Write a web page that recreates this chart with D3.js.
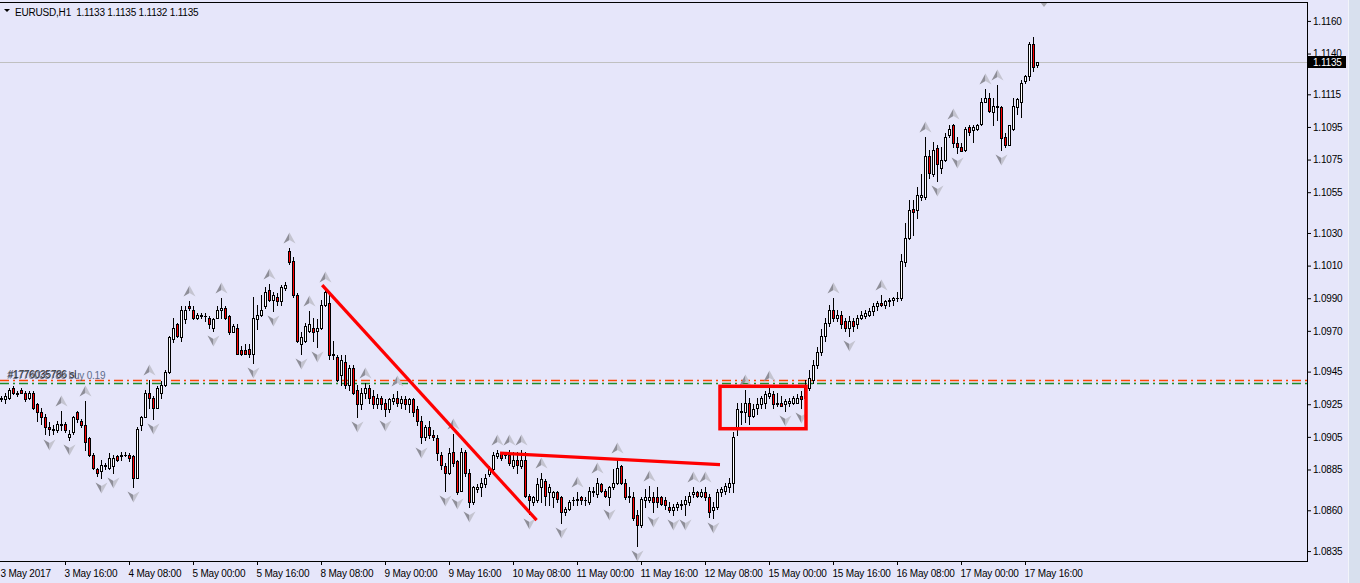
<!DOCTYPE html>
<html>
<head>
<meta charset="utf-8">
<script src="https://cdn.jsdelivr.net/npm/d3@7"></script>
<style>
  body { margin: 0; background: #e6e6fa; }
  svg { display: block; }
  text { font-family: "Liberation Sans", Arial, sans-serif; white-space: pre; }
</style>
</head>
<body>
<svg id="chart" width="1360" height="583"></svg>
<script>
// EURUSD H1, one row per hour: [open, high, low, close]
const may03 = [
  [1.0929,1.0930,1.0927,1.0928],[1.0928,1.0932,1.0926,1.0930],[1.0929,1.0935,1.0928,1.0934],[1.0935,1.0936,1.0931,1.0932],
  [1.0931,1.0933,1.0930,1.0932],[1.0934,1.0935,1.0932,1.0932],[1.0932,1.0933,1.0927,1.0928],[1.0929,1.0933,1.0928,1.0932],
  [1.0932,1.0933,1.0922,1.0923],[1.0925,1.0926,1.0915,1.0920],[1.0920,1.0923,1.0913,1.0917],[1.0917,1.0919,1.0907,1.0911],
  [1.0911,1.0914,1.0906,1.0910],[1.0909,1.0912,1.0907,1.0910],[1.0909,1.0915,1.0908,1.0913],[1.0912,1.0921,1.0909,1.0913],
  [1.0913,1.0914,1.0908,1.0909],[1.0905,1.0909,1.0903,1.0907],[1.0908,1.0918,1.0907,1.0917],[1.0920,1.0921,1.0914,1.0916],
  [1.0915,1.0916,1.0911,1.0912],[1.0912,1.0927,1.0897,1.0902],[1.0904,1.0905,1.0893,1.0894],[1.0894,1.0895,1.0885,1.0886]
];
const may04 = [
  [1.0885,1.0886,1.0881,1.0883],[1.0884,1.0891,1.0880,1.0888],[1.0887,1.0889,1.0885,1.0888],[1.0886,1.0895,1.0885,1.0892],
  [1.0887,1.0894,1.0883,1.0892],[1.0893,1.0894,1.0890,1.0891],[1.0893,1.0896,1.0891,1.0894],[1.0894,1.0896,1.0893,1.0894],
  [1.0894,1.0895,1.0890,1.0892],[1.0893,1.0894,1.0874,1.0880],[1.0880,1.0911,1.0880,1.0910],[1.0912,1.0918,1.0909,1.0917],
  [1.0917,1.0934,1.0917,1.0932],[1.0932,1.0940,1.0923,1.0929],[1.0929,1.0930,1.0916,1.0923],[1.0923,1.0936,1.0923,1.0935],
  [1.0932,1.0939,1.0929,1.0937],[1.0937,1.0946,1.0936,1.0945],[1.0945,1.0967,1.0944,1.0966],[1.0965,1.0978,1.0963,1.0972],
  [1.0974,1.0975,1.0966,1.0967],[1.0966,1.0985,1.0964,1.0983],[1.0977,1.0985,1.0975,1.0983],[1.0985,1.0988,1.0983,1.0984]
];
const may05 = [
  [1.0983,1.0985,1.0977,1.0978],[1.0978,1.0981,1.0977,1.0980],[1.0979,1.0981,1.0978,1.0980],[1.0979,1.0981,1.0976,1.0979],
  [1.0978,1.0979,1.0972,1.0974],[1.0972,1.0978,1.0970,1.0977],[1.0978,1.0985,1.0978,1.0983],[1.0983,1.0990,1.0978,1.0984],
  [1.0984,1.0985,1.0977,1.0978],[1.0979,1.0980,1.0968,1.0969],[1.0969,1.0974,1.0969,1.0973],[1.0972,1.0974,1.0956,1.0956],
  [1.0958,1.0961,1.0955,1.0956],[1.0958,1.0962,1.0956,1.0956],[1.0959,1.0962,1.0954,1.0956],[1.0956,1.0991,1.0950,1.0978],
  [1.0977,1.0986,1.0971,1.0980],[1.0980,1.0992,1.0979,1.0983],[1.0985,1.0997,1.0984,1.0994],[1.0995,1.0999,1.0988,1.0989],
  [1.0989,1.0994,1.0982,1.0992],[1.0991,1.0993,1.0986,1.0988],[1.0988,1.0998,1.0986,1.0997],[1.0996,1.1000,1.0995,1.0998]
];
const may08 = [
  [1.1019,1.1021,1.1011,1.1012],[1.1013,1.1015,1.0991,1.0992],[1.0992,1.0993,1.0963,1.0964],[1.0962,1.0969,1.0956,1.0966],
  [1.0964,1.0975,1.0963,1.0973],[1.0970,1.0982,1.0969,1.0974],[1.0972,1.0978,1.0964,1.0969],[1.0970,1.0977,1.0960,1.0972],
  [1.0972,1.0989,1.0971,1.0986],[1.0986,1.0997,1.0985,1.0994],[1.0987,1.0993,1.0953,1.0955],[1.0956,1.0964,1.0953,1.0955],
  [1.0954,1.0955,1.0939,1.0940],[1.0943,1.0955,1.0937,1.0952],[1.0951,1.0955,1.0935,1.0937],[1.0937,1.0949,1.0934,1.0947],
  [1.0947,1.0949,1.0931,1.0932],[1.0934,1.0937,1.0917,1.0925],[1.0925,1.0935,1.0922,1.0932],[1.0932,1.0938,1.0929,1.0935],
  [1.0935,1.0937,1.0926,1.0929],[1.0930,1.0934,1.0923,1.0925],[1.0925,1.0931,1.0923,1.0929],[1.0929,1.0930,1.0922,1.0925]
];
const may09 = [
  [1.0926,1.0928,1.0918,1.0922],[1.0922,1.0929,1.0920,1.0928],[1.0927,1.0931,1.0925,1.0929],[1.0929,1.0933,1.0924,1.0926],
  [1.0926,1.0930,1.0923,1.0928],[1.0928,1.0930,1.0922,1.0925],[1.0925,1.0929,1.0920,1.0928],[1.0928,1.0929,1.0918,1.0920],
  [1.0922,1.0924,1.0912,1.0915],[1.0915,1.0918,1.0901,1.0905],[1.0905,1.0912,1.0903,1.0911],[1.0911,1.0915,1.0904,1.0906],
  [1.0906,1.0909,1.0903,1.0905],[1.0904,1.0906,1.0891,1.0895],[1.0894,1.0896,1.0885,1.0888],[1.0887,1.0889,1.0872,1.0883],
  [1.0883,1.0898,1.0882,1.0895],[1.0896,1.0907,1.0887,1.0889],[1.0890,1.0891,1.0870,1.0871],[1.0872,1.0898,1.0872,1.0896],
  [1.0896,1.0897,1.0881,1.0883],[1.0883,1.0885,1.0862,1.0865],[1.0865,1.0875,1.0864,1.0874],[1.0873,1.0876,1.0871,1.0874]
];
const may10 = [
  [1.0874,1.0880,1.0869,1.0877],[1.0876,1.0882,1.0874,1.0880],[1.0882,1.0887,1.0881,1.0885],[1.0885,1.0896,1.0884,1.0894],
  [1.0893,1.0897,1.0892,1.0895],[1.0895,1.0896,1.0891,1.0892],[1.0894,1.0896,1.0892,1.0894],[1.0894,1.0897,1.0888,1.0889],
  [1.0887,1.0896,1.0886,1.0891],[1.0891,1.0896,1.0883,1.0888],[1.0887,1.0897,1.0886,1.0891],[1.0891,1.0896,1.0868,1.0869],
  [1.0869,1.0870,1.0858,1.0866],[1.0865,1.0869,1.0863,1.0868],[1.0866,1.0880,1.0865,1.0876],[1.0874,1.0883,1.0865,1.0879],
  [1.0878,1.0879,1.0863,1.0869],[1.0871,1.0876,1.0863,1.0874],[1.0868,1.0872,1.0862,1.0871],[1.0871,1.0872,1.0865,1.0867],
  [1.0868,1.0869,1.0852,1.0859],[1.0859,1.0862,1.0857,1.0861],[1.0861,1.0866,1.0860,1.0865],[1.0866,1.0868,1.0863,1.0866]
];
const may11 = [
  [1.0866,1.0871,1.0863,1.0867],[1.0868,1.0869,1.0864,1.0866],[1.0866,1.0868,1.0863,1.0866],[1.0865,1.0874,1.0864,1.0872],
  [1.0871,1.0874,1.0869,1.0872],[1.0870,1.0880,1.0868,1.0877],[1.0876,1.0877,1.0871,1.0872],[1.0872,1.0873,1.0868,1.0869],
  [1.0868,1.0875,1.0863,1.0874],[1.0874,1.0885,1.0873,1.0877],[1.0877,1.0892,1.0876,1.0886],[1.0887,1.0888,1.0876,1.0877],
  [1.0877,1.0879,1.0867,1.0868],[1.0869,1.0874,1.0865,1.0868],[1.0868,1.0871,1.0854,1.0855],[1.0857,1.0860,1.0838,1.0851],
  [1.0851,1.0868,1.0850,1.0867],[1.0866,1.0873,1.0862,1.0868],[1.0866,1.0875,1.0865,1.0868],[1.0868,1.0871,1.0859,1.0865],
  [1.0868,1.0874,1.0862,1.0865],[1.0868,1.0869,1.0863,1.0864],[1.0866,1.0868,1.0861,1.0863],[1.0862,1.0865,1.0859,1.0860]
];
const may12 = [
  [1.0860,1.0864,1.0857,1.0862],[1.0862,1.0865,1.0860,1.0864],[1.0863,1.0866,1.0861,1.0864],[1.0864,1.0869,1.0857,1.0866],
  [1.0865,1.0871,1.0863,1.0869],[1.0870,1.0874,1.0868,1.0871],[1.0871,1.0872,1.0868,1.0869],[1.0869,1.0873,1.0868,1.0871],
  [1.0871,1.0874,1.0866,1.0868],[1.0868,1.0870,1.0856,1.0859],[1.0860,1.0865,1.0855,1.0862],[1.0862,1.0873,1.0861,1.0871],
  [1.0871,1.0874,1.0869,1.0873],[1.0872,1.0877,1.0870,1.0875],[1.0874,1.0880,1.0871,1.0877],[1.0877,1.0908,1.0871,1.0905],
  [1.0910,1.0926,1.0906,1.0922],[1.0920,1.0926,1.0913,1.0921],[1.0920,1.0934,1.0914,1.0926],[1.0926,1.0929,1.0913,1.0918],
  [1.0918,1.0925,1.0917,1.0922],[1.0923,1.0929,1.0919,1.0925],[1.0925,1.0930,1.0923,1.0929],[1.0926,1.0933,1.0923,1.0931]
];
const may15 = [
  [1.0930,1.0936,1.0929,1.0932],[1.0931,1.0933,1.0923,1.0925],[1.0925,1.0932,1.0924,1.0926],[1.0926,1.0930,1.0924,1.0924],
  [1.0925,1.0928,1.0921,1.0927],[1.0926,1.0929,1.0924,1.0927],[1.0926,1.0930,1.0925,1.0929],[1.0926,1.0931,1.0926,1.0929],
  [1.0930,1.0933,1.0923,1.0928],[1.0929,1.0940,1.0928,1.0935],[1.0935,1.0946,1.0934,1.0941],[1.0940,1.0952,1.0938,1.0949],
  [1.0949,1.0960,1.0947,1.0957],[1.0957,1.0971,1.0955,1.0967],[1.0967,1.0978,1.0964,1.0975],[1.0975,1.0986,1.0973,1.0983],
  [1.0983,1.0990,1.0976,1.0978],[1.0978,1.0983,1.0976,1.0980],[1.0980,1.0982,1.0972,1.0974],[1.0976,1.0978,1.0970,1.0972],
  [1.0972,1.0979,1.0967,1.0976],[1.0976,1.0978,1.0970,1.0973],[1.0974,1.0980,1.0972,1.0978],[1.0978,1.0982,1.0977,1.0980]
];
const may16 = [
  [1.0979,1.0983,1.0978,1.0981],[1.0980,1.0984,1.0979,1.0982],[1.0982,1.0987,1.0980,1.0985],[1.0985,1.0988,1.0983,1.0987],
  [1.0987,1.0992,1.0985,1.0986],[1.0986,1.0989,1.0984,1.0988],[1.0988,1.0990,1.0985,1.0989],[1.0989,1.0991,1.0986,1.0990],
  [1.0990,1.0994,1.0988,1.0990],[1.0990,1.1017,1.0989,1.1013],[1.1012,1.1036,1.1010,1.1027],[1.1027,1.1050,1.1026,1.1044],
  [1.1045,1.1050,1.1029,1.1043],[1.1044,1.1058,1.1039,1.1053],[1.1052,1.1066,1.1050,1.1053],[1.1052,1.1089,1.1051,1.1077],
  [1.1077,1.1081,1.1064,1.1067],[1.1066,1.1086,1.1065,1.1081],[1.1082,1.1084,1.1062,1.1072],[1.1070,1.1083,1.1067,1.1075],
  [1.1075,1.1091,1.1074,1.1089],[1.1090,1.1096,1.1089,1.1094],[1.1096,1.1097,1.1083,1.1085],[1.1085,1.1089,1.1079,1.1083]
];
const may17 = [
  [1.1083,1.1085,1.1080,1.1080],[1.1081,1.1095,1.1080,1.1094],[1.1095,1.1096,1.1090,1.1092],[1.1093,1.1096,1.1086,1.1095],
  [1.1094,1.1097,1.1093,1.1096],[1.1097,1.1113,1.1096,1.1110],[1.1110,1.1118,1.1110,1.1113],[1.1113,1.1116,1.1104,1.1105],
  [1.1104,1.1113,1.1096,1.1108],[1.1107,1.1121,1.1099,1.1108],[1.1107,1.1108,1.1081,1.1088],[1.1089,1.1091,1.1083,1.1084],
  [1.1084,1.1096,1.1084,1.1096],[1.1094,1.1113,1.1093,1.1108],[1.1107,1.1113,1.1103,1.1112],[1.1110,1.1124,1.1101,1.1122],
  [1.1123,1.1127,1.1122,1.1126],[1.1126,1.1147,1.1124,1.1146],[1.1146,1.1150,1.1129,1.1132],[1.1133,1.1135,1.1132,1.1135]
];

// Bill Williams fractals (bar index)
const upFractals = [15,21,37,47,55,67,72,77,81,91,99,113,124,127,130,135,144,149,154,162,173,176,186,192,208,220,231,238,246,249];
const downFractals = [12,17,25,28,33,38,53,63,68,75,79,89,96,105,111,114,117,132,140,152,159,163,168,171,178,196,200,212,234,239,250];

const priceTicks = [1.1160,1.1140,1.1115,1.1095,1.1075,1.1055,1.1030,1.1010,1.0990,1.0970,1.0945,1.0925,1.0905,1.0885,1.0860,1.0835];
const timeTickIdx = [0,16,32,48,64,80,96,112,128,144,160,176,192,208,224,240,256];
const timeLabels = ['3 May 2017','3 May 16:00','4 May 08:00','5 May 00:00','5 May 16:00','8 May 08:00','9 May 00:00',
  '9 May 16:00','10 May 08:00','11 May 00:00','11 May 16:00','12 May 08:00','15 May 00:00','15 May 16:00',
  '16 May 08:00','17 May 00:00','17 May 16:00'];

const bid = 1.1135;
const slLevel = 1.0940;
const buyLevel = 1.0938;
// hand-drawn objects: [bar1, price1, bar2, price2]
const trendLines = [[80.3, 1.0998, 133.9, 1.0854], [124.75, 1.0895, 179.75, 1.0888]];
const zoneBox = [179.75, 1.0936, 201.25, 1.0910];

const bars = [].concat(may03, may04, may05, may08, may09, may10, may11, may12, may15, may16, may17);

const svg = d3.select('#chart');
const W = 1360, H = 583;
const plotRight = 1307, plotBottom = 561, plotTop = 2;

const x = d3.scaleLinear().domain([0, bars.length - 1]).range([1, 1037]);
const y = d3.scaleLinear().domain([1.08289, 1.11716]).range([plotBottom, plotTop]);

svg.append('rect').attr('width', W).attr('height', H).attr('fill', '#e6e6fa');

// window frame strip on the right
svg.append('rect').attr('x', 1348).attr('y', 0).attr('width', 12).attr('height', H).attr('fill', '#d8e0ee');
svg.append('line').attr('x1', 1348.5).attr('x2', 1348.5).attr('y1', 0).attr('y2', H).attr('stroke', '#f2f4fa');

svg.append('clipPath').attr('id', 'plot')
  .append('rect').attr('x', 0).attr('y', plotTop).attr('width', plotRight).attr('height', plotBottom - plotTop);

const plot = svg.append('g').attr('clip-path', 'url(#plot)');

// bid line
plot.append('line')
  .attr('x1', 0).attr('x2', plotRight)
  .attr('y1', Math.round(y(bid)) + 0.5).attr('y2', Math.round(y(bid)) + 0.5)
  .attr('stroke', '#c0c0c0');

// order levels
[[slLevel, '#ff4500'], [buyLevel, '#1e8c2a']].forEach(([p, col]) => {
  plot.append('line')
    .attr('x1', 0).attr('x2', plotRight)
    .attr('y1', Math.round(y(p)) + 0.5).attr('y2', Math.round(y(p)) + 0.5)
    .attr('stroke', col).attr('stroke-width', 1.3)
    .attr('stroke-dasharray', '9,4,2,4');
});
// both order labels sit on the same spot, as in the terminal
plot.append('text').attr('x', 7).attr('y', Math.round(y(slLevel)) - 1)
  .attr('font-size', 10).attr('letter-spacing', -0.2).attr('fill', '#5d6d8c').text('#1776035786 buy 0.19');
plot.append('text').attr('x', 8).attr('y', Math.round(y(slLevel)) - 2)
  .attr('font-size', 10).attr('letter-spacing', -0.2).attr('fill', '#303030').text('#1776035786 sl');

// candles
const cx = i => Math.round(x(i));
plot.selectAll('line.wick').data(bars).join('line')
  .attr('class', 'wick')
  .attr('x1', (d, i) => cx(i) + 0.5).attr('x2', (d, i) => cx(i) + 0.5)
  .attr('y1', d => Math.round(y(d[1]))).attr('y2', d => Math.round(y(d[2])) + 1)
  .attr('stroke', '#000').attr('shape-rendering', 'crispEdges');

plot.selectAll('rect.body').data(bars).join('rect')
  .attr('class', 'body')
  .attr('x', (d, i) => cx(i) - 0.5)
  .attr('y', d => Math.round(y(Math.max(d[0], d[3]))) + 0.5)
  .attr('width', 2)
  .attr('height', d => Math.max(0, Math.round(y(Math.min(d[0], d[3]))) - Math.round(y(Math.max(d[0], d[3])))))
  .attr('fill', d => d[3] >= d[0] ? '#ffffff' : '#ff0000')
  .attr('stroke', '#000').attr('shape-rendering', 'crispEdges');

// doji ticks
plot.selectAll('line.doji')
  .data(bars.map((d, i) => [d, i]).filter(([d]) => Math.round(y(d[0])) === Math.round(y(d[3]))))
  .join('line')
  .attr('class', 'doji')
  .attr('x1', ([d, i]) => cx(i) - 1).attr('x2', ([d, i]) => cx(i) + 2)
  .attr('y1', ([d]) => Math.round(y(d[3])) + 0.5).attr('y2', ([d]) => Math.round(y(d[3])) + 0.5)
  .attr('stroke', '#000').attr('shape-rendering', 'crispEdges');

// fractal arrows
const upShape = { left: 'M0,-5.5L-6,5.5L0,2Z', right: 'M0,-5.5L6,5.5L0,2Z' };
const dnShape = { left: 'M0,5.5L-6,-5.5L0,-2Z', right: 'M0,5.5L6,-5.5L0,-2Z' };

const ups = plot.selectAll('g.up').data(upFractals).join('g')
  .attr('class', 'up')
  .attr('transform', i => `translate(${cx(i) + 0.5},${Math.round(y(bars[i][1])) - 10})`);
ups.append('path').attr('d', upShape.left).attr('fill', '#8e8e98');
ups.append('path').attr('d', upShape.right).attr('fill', '#c4c4d0');

const dns = plot.selectAll('g.dn').data(downFractals).join('g')
  .attr('class', 'dn')
  .attr('transform', i => `translate(${cx(i) + 0.5},${Math.round(y(bars[i][2])) + 10})`);
dns.append('path').attr('d', dnShape.left).attr('fill', '#8e8e98');
dns.append('path').attr('d', dnShape.right).attr('fill', '#c4c4d0');

// drawn trend lines and box
plot.selectAll('line.trend').data(trendLines).join('line')
  .attr('class', 'trend')
  .attr('x1', d => x(d[0])).attr('y1', d => y(d[1]))
  .attr('x2', d => x(d[2])).attr('y2', d => y(d[3]))
  .attr('stroke', '#ff0000').attr('stroke-width', 3.2);

plot.append('rect')
  .attr('x', x(zoneBox[0])).attr('y', y(zoneBox[1]))
  .attr('width', x(zoneBox[2]) - x(zoneBox[0]))
  .attr('height', y(zoneBox[3]) - y(zoneBox[1]))
  .attr('fill', 'none').attr('stroke', '#ff0000').attr('stroke-width', 3.5);

// chart shift marker
const sx = cx(bars.length - 1) + 7;
svg.append('path').attr('d', `M${sx - 4},2L${sx + 4},2L${sx},7Z`).attr('fill', '#a8a8b0');

// frame
svg.append('path')
  .attr('d', `M0,${plotTop + 0.5}H${plotRight + 0.5}V${plotBottom + 0.5}H0`)
  .attr('fill', 'none').attr('stroke', '#000').attr('shape-rendering', 'crispEdges');

// price axis
const yAxis = svg.append('g')
  .attr('transform', `translate(${plotRight},0)`)
  .call(d3.axisRight(y).tickValues(priceTicks).tickSize(4).tickPadding(2).tickFormat(d3.format('.4f')));
yAxis.select('.domain').remove();
yAxis.selectAll('text').attr('font-size', 10).attr('fill', '#000').attr('letter-spacing', -0.2)
  .attr('font-family', '"Liberation Sans", Arial, sans-serif');
yAxis.selectAll('line').attr('stroke', '#000');

// bid label
const by = Math.round(y(bid));
svg.append('rect').attr('x', 1308).attr('y', by - 6).attr('width', 38).attr('height', 12).attr('fill', '#000');
svg.append('text').attr('x', 1313).attr('y', by + 4).attr('font-size', 10).attr('letter-spacing', -0.2)
  .attr('fill', '#fff').text(d3.format('.4f')(bid));

// time axis
const xAxis = svg.append('g')
  .attr('transform', `translate(0,${plotBottom})`)
  .call(d3.axisBottom(x).tickValues(timeTickIdx).tickSize(4).tickFormat((d, i) => timeLabels[i]));
xAxis.select('.domain').remove();
xAxis.selectAll('line').attr('stroke', '#000').attr('opacity', (d, i) => i === 0 ? 0 : 1);
xAxis.selectAll('text')
  .attr('text-anchor', 'start').attr('x', -1).attr('dy', '0.9em')
  .attr('font-size', 10).attr('fill', '#000').attr('letter-spacing', -0.2)
  .attr('font-family', '"Liberation Sans", Arial, sans-serif');

// header
svg.append('path').attr('d', 'M4,9L10,9L7,12Z').attr('fill', '#000');
svg.append('text').attr('x', 15).attr('y', 16).attr('font-size', 10).attr('letter-spacing', -0.2)
  .attr('fill', '#000')
  .text('EURUSD,H1  ' + bars[bars.length - 1].map(d3.format('.4f')).join(' '));
</script>
</body>
</html>
